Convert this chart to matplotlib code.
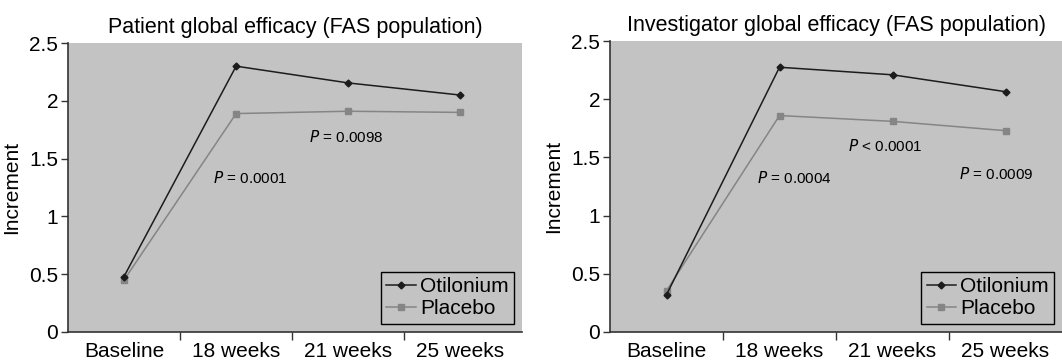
import matplotlib
matplotlib.use("Agg")
import matplotlib.pyplot as plt

INK = "#1c1c1c"
PLAC = "#858585"
BG = "#c3c3c3"

plt.rcParams.update({
    "font.family": ["Liberation Sans", "DejaVu Sans"],
    "font.size": 15,
})

categories = ["Baseline", "18 weeks", "21 weeks", "25 weeks"]

# patient global efficacy
pat_otil = [0.48, 2.30, 2.155, 2.05]
pat_plac = [0.45, 1.89, 1.91, 1.90]
pat_p = ["0.0001", "0.0098"]
pat_p_sign = ["=", "="]
pat_p_xy = [(1.13, 1.33), (1.98, 1.69)]

# investigator global efficacy
inv_otil = [0.32, 2.275, 2.21, 2.065]
inv_plac = [0.355, 1.86, 1.81, 1.73]
inv_p = ["0.0004", "0.0001", "0.0009"]
inv_p_sign = ["=", "<", "="]
inv_p_xy = [(1.13, 1.32), (1.94, 1.60), (2.92, 1.36)]

yticks = [0, 0.5, 1, 1.5, 2, 2.5]
yticklabels = ["0", "0.5", "1", "1.5", "2", "2.5"]


def panel(ax, title, otil, plac, pvals, signs, pxy, xmax):
    ax.set_facecolor(BG)
    x = list(range(len(categories)))
    ax.plot(x, otil, color=INK, lw=1.1, marker="D", ms=3.5, label="Otilonium", zorder=3)
    ax.plot(x, plac, color=PLAC, lw=1.1, marker="s", ms=4.5, label="Placebo", zorder=2)
    ax.set_xlim(-0.5, xmax)
    ax.set_ylim(0, 2.5)
    ax.set_yticks(yticks)
    ax.set_yticklabels(yticklabels)
    ax.set_xticks([0.5, 1.5, 2.5])
    ax.set_xticklabels([])
    ax.set_xticks(x, minor=True)
    ax.set_xticklabels(categories, minor=True)
    ax.tick_params(axis="x", which="minor", length=0, pad=7)
    ax.tick_params(axis="x", which="major", length=6, width=1, color="#333333")
    ax.tick_params(axis="y", length=5, width=1, color="#333333", pad=2)
    for s in ("top", "right"):
        ax.spines[s].set_visible(False)
    for s in ("left", "bottom"):
        ax.spines[s].set_color("#333333")
        ax.spines[s].set_linewidth(1.2)
    ax.set_ylabel("Increment", labelpad=6)
    ax.set_title(title, fontsize=15.5, pad=7)
    for p, sg, (px, py) in zip(pvals, signs, pxy):
        ax.text(px, py, f"$P$ {sg} {p}", ha="center", va="center", fontsize=11)
    leg = ax.legend(loc="lower right", frameon=True, fancybox=False,
                    handlelength=1.4, handletextpad=0.2, borderpad=0.25,
                    labelspacing=0.15, borderaxespad=0.4, fontsize=15)
    leg.get_frame().set_edgecolor("black")
    leg.get_frame().set_facecolor(BG)
    leg.get_frame().set_alpha(1)
    leg.get_frame().set_linewidth(1.0)


fig = plt.figure(figsize=(10.62, 3.63), dpi=100)
ax1 = fig.add_axes([0.064, 0.0854, 0.4275, 0.796])
ax2 = fig.add_axes([0.5744, 0.0854, 0.4256, 0.8015])

panel(ax1, "Patient global efficacy (FAS population)",
      pat_otil, pat_plac, pat_p, pat_p_sign, pat_p_xy, 3.55)
panel(ax2, "Investigator global efficacy (FAS population)",
      inv_otil, inv_plac, inv_p, inv_p_sign, inv_p_xy, 3.5)

fig.savefig("out.png", dpi=100)
